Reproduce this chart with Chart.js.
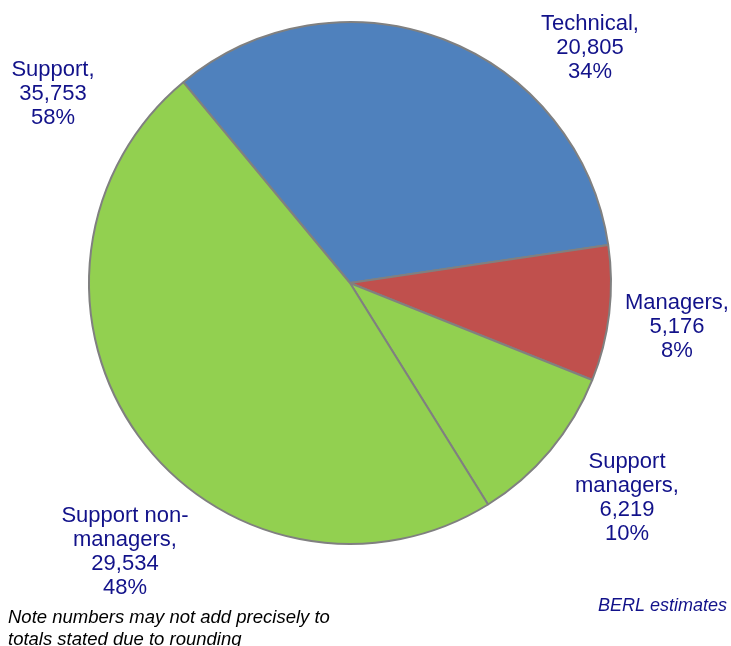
<!DOCTYPE html>
<html>
<head>
<meta charset="utf-8">
<script src="https://cdn.jsdelivr.net/npm/chart.js@4/dist/chart.umd.min.js"></script>
<style>
  html, body { margin: 0; padding: 0; background: #ffffff; }
  #wrap { position: relative; width: 731px; height: 646px; }
</style>
</head>
<body>
<div id="wrap"><canvas id="c" width="731" height="646"></canvas></div>
<script>
// Workforce split by occupation group
const categories = ['Technical', 'Managers', 'Support managers', 'Support non-managers'];
const workers = [20805, 5176, 6219, 29534];
const shares = ['34%', '8%', '10%', '48%'];
const sliceColours = ['#4F81BD', '#C0504D', '#92D050', '#92D050'];

// Label text blocks (lines) and where each block is centred
const labelLines = [
  ['Technical,', '20,805', '34%'],
  ['Managers,', '5,176', '8%'],
  ['Support', 'managers,', '6,219', '10%'],
  ['Support non-', 'managers,', '29,534', '48%']
];
const labelCentres = [[590, 48], [677, 327], [627, 498], [125, 552]];

const supportLines = ['Support,', '35,753', '58%'];
const supportCentre = [53, 94];

const noteLines = ['Note numbers may not add precisely to', 'totals stated due to rounding'];
const sourceText = 'BERL estimates';

const TEXT_BLUE = '#12128A';
const FONT = '"Liberation Sans", Arial, sans-serif';

function drawBlock(ctx, lines, cx, cy, lh) {
  const top = cy - (lines.length - 1) * lh / 2;
  lines.forEach((t, i) => ctx.fillText(t, cx, top + i * lh));
}

const labelPlugin = {
  id: 'labelPlugin',
  afterDraw(chart) {
    const ctx = chart.ctx;
    ctx.save();
    ctx.fillStyle = TEXT_BLUE;
    ctx.font = '22px ' + FONT;
    ctx.textAlign = 'center';
    ctx.textBaseline = 'middle';
    labelLines.forEach((lines, i) => {
      drawBlock(ctx, lines, labelCentres[i][0], labelCentres[i][1], 24);
    });
    drawBlock(ctx, supportLines, supportCentre[0], supportCentre[1], 24);

    ctx.font = 'italic 18.5px ' + FONT;
    ctx.fillStyle = '#000000';
    ctx.textAlign = 'left';
    ctx.fillText(noteLines[0], 8, 618);
    ctx.fillText(noteLines[1], 8, 640);

    ctx.font = 'italic 18px ' + FONT;
    ctx.fillStyle = TEXT_BLUE;
    ctx.textAlign = 'right';
    ctx.fillText(sourceText, 727, 606);
    ctx.restore();
  }
};

new Chart(document.getElementById('c'), {
  type: 'pie',
  data: {
    labels: categories,
    datasets: [{
      data: workers,
      backgroundColor: sliceColours,
      borderColor: '#808080',
      borderWidth: 2,
      hoverOffset: 0
    }]
  },
  options: {
    responsive: false,
    animation: false,
    rotation: -39.7,
    layout: { padding: { left: 88, top: 21, right: 119, bottom: 101 } },
    plugins: {
      legend: { display: false },
      tooltip: { enabled: false }
    }
  },
  plugins: [labelPlugin]
});
</script>
</body>
</html>
